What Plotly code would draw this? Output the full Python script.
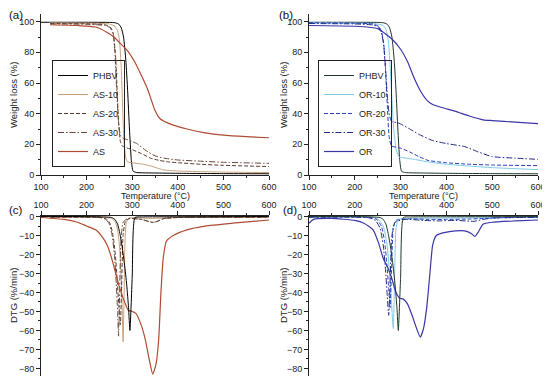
import plotly.graph_objects as go

# ---------------- TGA data (weight %, vs temperature °C) ----------------
phbv_tga_T = [100, 150, 200, 250, 262, 270, 276, 281, 286, 290, 294, 298, 302, 310, 350, 400, 500, 600]
phbv_tga_W = [99.6, 99.6, 99.6, 99.5, 99.3, 98.5, 96, 90, 75, 55, 30, 10, 2.5, 1.6, 1.3, 1.1, 0.9, 0.8]

as10_tga_T = [120, 200, 250, 262, 268, 272, 276, 279, 282, 286, 290, 300, 320, 340, 355, 370, 400, 450, 500, 600]
as10_tga_W = [99.2, 99, 98.5, 97, 94, 88, 70, 45, 22, 11, 8.5, 8, 7.2, 6, 4.5, 3.3, 2.6, 2.2, 1.9, 1.6]

as20_tga_T = [120, 200, 240, 252, 258, 263, 267, 270, 274, 278, 285, 300, 320, 340, 360, 380, 400, 450, 500, 600]
as20_tga_W = [98.8, 98.6, 98, 96.5, 93, 80, 55, 35, 22, 19, 18, 16.5, 14, 11, 9.5, 8.5, 8, 7, 6.3, 5.5]

as30_tga_T = [120, 200, 240, 252, 258, 262, 266, 270, 274, 280, 290, 310, 330, 350, 370, 400, 450, 500, 600]
as30_tga_W = [98.5, 98.3, 97.5, 96, 92, 80, 55, 35, 26, 24, 23, 20.5, 16, 12.5, 11, 9.8, 9, 8.3, 7.6]

as_tga_T = [120, 180, 220, 245, 260, 275, 290, 305, 320, 335, 350, 360, 370, 390, 420, 460, 500, 550, 600]
as_tga_W = [98, 97.5, 96.5, 93, 90, 85.5, 81, 74, 65, 55, 42, 37, 35, 32.5, 30, 27.5, 26, 25, 24.3]

or10_tga_T = [100, 200, 250, 262, 268, 273, 277, 281, 285, 290, 296, 305, 330, 360, 400, 450, 500, 600]
or10_tga_W = [99.3, 99, 98.5, 97.5, 95, 88, 72, 50, 30, 17, 12, 11.3, 10.2, 8.5, 7, 5.8, 4.8, 3.5]

or20_tga_T = [100, 200, 240, 252, 258, 263, 267, 271, 275, 280, 300, 320, 340, 360, 400, 450, 500, 600]
or20_tga_W = [99.3, 99, 98.5, 97, 94, 86, 68, 45, 25, 19, 17.5, 15, 12, 9.5, 8, 7, 6.5, 6.1]

or30_tga_T = [100, 200, 240, 252, 258, 263, 267, 271, 275, 280, 295, 320, 340, 370, 400, 440, 470, 500, 550, 600]
or30_tga_W = [98.8, 98.5, 97.8, 96.5, 93, 85, 70, 52, 40, 35, 34, 30, 26.5, 22.5, 20.5, 18.5, 15, 12, 11, 10.2]

or_tga_T = [100, 200, 250, 265, 280, 300, 315, 330, 345, 360, 370, 390, 420, 450, 480, 500, 550, 600]
or_tga_W = [97.5, 97, 95.5, 92.5, 89, 82, 74, 63, 54, 48, 46, 44, 41.5, 38.5, 36, 35.5, 34.5, 33.5]

# ---------------- DTG data (%/min, vs temperature °C) ----------------
phbv_dtg_T = [100, 200, 240, 255, 262, 268, 273, 278, 283, 288, 292, 295, 300, 306, 320, 400, 600]
phbv_dtg_D = [0, 0, -0.2, -0.5, -1.5, -4, -9, -16, -25, -36, -48, -60, -32, -0.5, -0.2, -0.1, 0]

as10_dtg_T = [120, 240, 255, 263, 268, 272, 275, 278, 280, 282, 284, 287, 292, 300, 340, 400, 600]
as10_dtg_D = [-0.3, -0.5, -1, -3, -7, -15, -28, -48, -66, -45, -15, -3, -1, -0.5, -1, -0.5, -0.3]

as20_dtg_T = [120, 230, 245, 252, 258, 263, 267, 271, 274, 277, 280, 285, 295, 320, 335, 345, 355, 370, 400, 600]
as20_dtg_D = [-0.3, -0.5, -1.5, -4, -10, -20, -33, -48, -57, -35, -10, -2.5, -1, -1.5, -2.5, -3, -2.5, -1, -0.5, -0.3]

as30_dtg_T = [120, 230, 242, 250, 256, 261, 265, 268, 270, 272, 275, 280, 290, 320, 335, 345, 355, 370, 400, 600]
as30_dtg_D = [-0.3, -0.5, -1.5, -4, -10, -20, -35, -50, -63, -45, -15, -3, -1, -1.5, -2.5, -3.2, -2.5, -1, -0.5, -0.3]

as_dtg_T = [100, 150, 180, 200, 220, 235, 245, 255, 264, 273, 285, 292, 300, 308, 318, 328, 338, 345, 352, 358, 363, 368, 375, 390, 420, 460, 520, 600]
as_dtg_D = [-0.5, -1.5, -3, -5, -7, -11, -15, -22, -30, -38, -46, -49.5, -50, -51, -56, -64, -76, -83, -78, -65, -40, -22, -13, -10, -7, -5, -3.5, -1.8]

or10_dtg_T = [100, 240, 252, 262, 270, 276, 280, 284, 287, 290, 295, 320, 400, 600]
or10_dtg_D = [-0.3, -0.5, -1.5, -5, -14, -30, -45, -59, -30, -6, -1.5, -1, -0.8, -0.3]

or20_dtg_T = [100, 235, 248, 258, 265, 270, 274, 277, 280, 284, 290, 320, 360, 400, 450, 480, 520, 600]
or20_dtg_D = [-0.3, -0.5, -1.5, -5, -13, -25, -38, -48, -30, -6, -2, -1.2, -1.5, -1.5, -1.3, -1, -0.6, -0.3]

or30_dtg_T = [100, 230, 245, 255, 262, 267, 271, 274, 277, 281, 288, 310, 350, 380, 420, 460, 480, 500, 600]
or30_dtg_D = [-0.3, -0.6, -2, -6, -15, -28, -42, -52, -35, -10, -3, -1.5, -2, -2.3, -2, -2.5, -1.5, -0.8, -0.4]

or_dtg_T = [100, 110, 150, 200, 220, 240, 252, 262, 272, 280, 290, 298, 306, 315, 325, 335, 343, 350, 357, 364, 370, 378, 395, 420, 440, 455, 462, 470, 480, 500, 550, 600]
or_dtg_D = [-3.5, -1.5, -1, -2, -3.5, -7, -14, -22, -27, -32, -40, -43, -43.5, -46, -52, -59, -63.5, -59, -48, -30, -15, -10, -8.5, -7.5, -7.5, -9, -10.5, -8, -4, -3, -2.3, -1.8]

x_ticks = [100, 200, 300, 400, 500, 600]
tga_ticks = [0, 20, 40, 60, 80, 100]
dtg_ticks = [0, -10, -20, -30, -40, -50, -60, -70, -80]

# ---------------- styles ----------------
C_PHBV_A = "#000000"
C_PHBV_B = "#1e3528"
C_AS10 = "#c9a07c"
C_AS20 = "#5a3a2c"
C_AS30 = "#6a4636"
C_AS = "#b04a30"
C_OR10 = "#7fcbe6"
C_OR20 = "#2a3cc0"
C_OR30 = "#1f2a8a"
C_OR = "#3a36a8"
DASH = "4px,2px"
DASHDOT = "6px,2px,1.5px,2px"

FONT = "Liberation Sans, Arial, sans-serif"
# the page body has an 8px margin, so the figure is sized to fill the rest of the 550x384 window
OFF = 8
W, H = 550 - OFF, 384 - OFF

def px(v):
    return (v - OFF) / W

def py(v):
    return 1 - (v - OFF) / H

fig = go.Figure()

def add(xs, ys, name, color, dash, xa, ya, legend=None, show=False, width=1.0):
    fig.add_trace(go.Scatter(
        x=xs, y=ys, mode="lines", name=name,
        line=dict(color=color, width=width, dash=dash, shape="spline", smoothing=0.5),
        xaxis=xa, yaxis=ya, showlegend=show,
        legend=legend if legend else "legend",
    ))

# (a)
add(phbv_tga_T, phbv_tga_W, "PHBV", C_PHBV_A, "solid", "x", "y", "legend", True)
add(as10_tga_T, as10_tga_W, "AS-10", C_AS10, "solid", "x", "y", "legend", True)
add(as20_tga_T, as20_tga_W, "AS-20", C_AS20, DASH, "x", "y", "legend", True)
add(as30_tga_T, as30_tga_W, "AS-30", C_AS30, DASHDOT, "x", "y", "legend", True)
add(as_tga_T, as_tga_W, "AS", C_AS, "solid", "x", "y", "legend", True, 1.2)
# (b)
add(phbv_tga_T, phbv_tga_W, "PHBV", C_PHBV_B, "solid", "x2", "y2", "legend2", True)
add(or10_tga_T, or10_tga_W, "OR-10", C_OR10, "solid", "x2", "y2", "legend2", True)
add(or20_tga_T, or20_tga_W, "OR-20", C_OR20, DASH, "x2", "y2", "legend2", True)
add(or30_tga_T, or30_tga_W, "OR-30", C_OR30, DASHDOT, "x2", "y2", "legend2", True)
add(or_tga_T, or_tga_W, "OR", C_OR, "solid", "x2", "y2", "legend2", True, 1.2)
# (c)
add(as10_dtg_T, as10_dtg_D, "AS-10", C_AS10, "solid", "x3", "y3")
add(as20_dtg_T, as20_dtg_D, "AS-20", C_AS20, DASH, "x3", "y3")
add(as30_dtg_T, as30_dtg_D, "AS-30", C_AS30, DASHDOT, "x3", "y3")
add(as_dtg_T, as_dtg_D, "AS", C_AS, "solid", "x3", "y3", width=1.2)
add(phbv_dtg_T, phbv_dtg_D, "PHBV", C_PHBV_A, "solid", "x3", "y3")
# (d)
add(or10_dtg_T, or10_dtg_D, "OR-10", C_OR10, "solid", "x4", "y4")
add(or20_dtg_T, or20_dtg_D, "OR-20", C_OR20, DASH, "x4", "y4")
add(or30_dtg_T, or30_dtg_D, "OR-30", C_OR30, DASHDOT, "x4", "y4")
add(or_dtg_T, or_dtg_D, "OR", C_OR, "solid", "x4", "y4", width=1.2)
add(phbv_dtg_T, phbv_dtg_D, "PHBV", C_PHBV_B, "solid", "x4", "y4")

tickfont = dict(family=FONT, size=9, color="#222")

def xaxis(domain, anchor, side="bottom"):
    return dict(domain=domain, anchor=anchor, side=side, range=[100, 600],
                tickvals=x_ticks, ticks="outside", ticklen=4, tickcolor="#222",
                showline=True, linecolor="#222", linewidth=1, showgrid=False,
                zeroline=False, tickfont=tickfont, mirror=False, automargin=False,
                ticklabelstandoff=-1,
                minor=dict(dtick=50, tick0=100, ticks="outside", ticklen=2, tickcolor="#222"))

def yaxis(domain, anchor, rng, tv, mdt):
    return dict(domain=domain, anchor=anchor, range=rng, tickvals=tv,
                ticks="outside", ticklen=4, tickcolor="#222",
                showline=True, linecolor="#222", linewidth=1, showgrid=False,
                zeroline=False, tickfont=tickfont, mirror=False, automargin=False,
                minor=dict(dtick=mdt, ticks="outside", ticklen=2, tickcolor="#222"))

dxL = [px(41), px(269)]
dxR = [px(309), px(538)]
dyT = [py(175), py(14)]
dyB = [py(376), py(216)]

fig.update_layout(
    template="none",
    width=W, height=H, autosize=False, margin=dict(l=0, r=0, t=0, b=0, pad=0),
    paper_bgcolor="white", plot_bgcolor="white",
    font=dict(family=FONT, size=9, color="#222"),
    xaxis=xaxis(dxL, "y"), yaxis=yaxis(dyT, "x", [0, 105], tga_ticks, 10),
    xaxis2=xaxis(dxR, "y2"), yaxis2=yaxis(dyT, "x2", [0, 105], tga_ticks, 10),
    xaxis3=xaxis(dxL, "y3", "top"), yaxis3=yaxis(dyB, "x3", [-84, 0.3], dtg_ticks, 5),
    xaxis4=xaxis(dxR, "y4", "top"), yaxis4=yaxis(dyB, "x4", [-84, 0.3], dtg_ticks, 5),
    legend=dict(x=px(52), y=py(167), xanchor="left", yanchor="bottom",
                bordercolor="#222", borderwidth=1, bgcolor="rgba(255,255,255,0)",
                font=dict(family=FONT, size=9, color="#222"), tracegroupgap=0,
                itemwidth=30),
    legend2=dict(x=px(318), y=py(167), xanchor="left", yanchor="bottom",
                 bordercolor="#222", borderwidth=1, bgcolor="rgba(255,255,255,0)",
                 font=dict(family=FONT, size=9, color="#222"), tracegroupgap=0,
                 itemwidth=30),
)

ann = []
for (x, y, t) in [(8, 8, "(a)"), (278, 8, "(b)"), (5, 203, "(c)"), (282, 203, "(d)")]:
    ann.append(dict(x=px(max(x, OFF)), y=py(y), xref="paper", yref="paper", text=t,
                    showarrow=False, xanchor="left", yanchor="top", borderpad=0,
                    font=dict(family=FONT, size=11.5, color="#111")))
for (x, y, t) in [(13, 95, "Weight loss (%)"), (283, 95, "Weight loss (%)"),
                  (13, 296, "DTG (%/min)"), (283, 296, "DTG (%/min)")]:
    ann.append(dict(x=px(x), y=py(y), xref="paper", yref="paper", text=t, showarrow=False,
                    textangle=-90, xanchor="center", yanchor="middle",
                    font=dict(family=FONT, size=9.5, color="#222")))
for (x, y) in [(155, 195.5), (423, 195.5)]:
    ann.append(dict(x=px(x), y=py(y), xref="paper", yref="paper", text="Temperature (°C)",
                    showarrow=False, xanchor="center", yanchor="middle",
                    font=dict(family=FONT, size=9, color="#222")))
fig.update_layout(annotations=ann)

fig.write_html("out.html")
